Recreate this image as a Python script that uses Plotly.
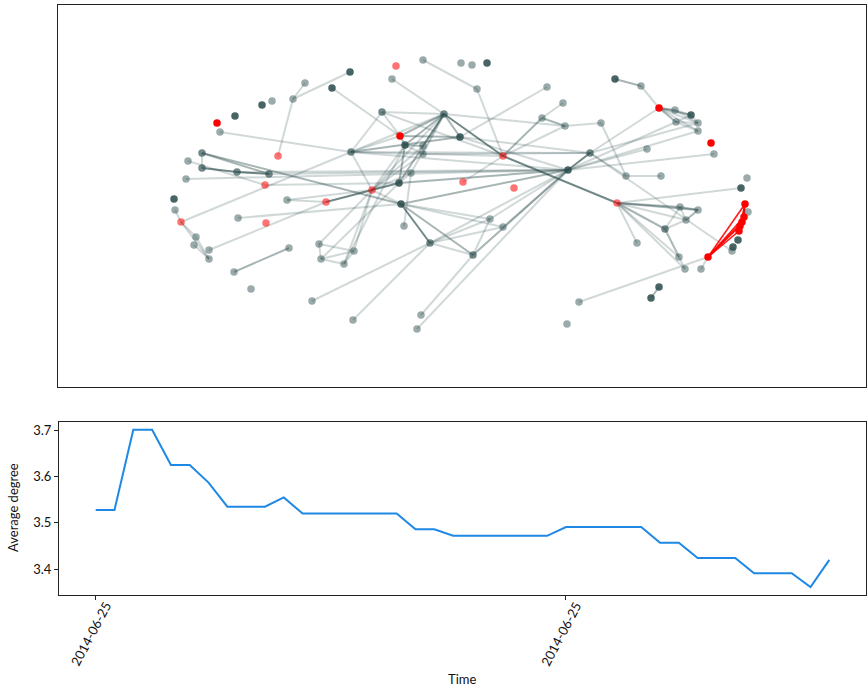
import plotly.graph_objects as go

# ---- network snapshot: node layout positions (layout units) and node classes ----
# classes: R = red, r = faded red, D = dark, M = medium, G = light grey
pos_x = [217, 235, 262, 272, 305, 293, 350, 332, 396, 392,
         220, 382, 400, 278, 351, 202, 188, 202, 237, 269,
         186, 265, 174, 175, 287, 326, 372, 399, 401, 238,
         423, 461, 472, 487, 477, 547, 563, 615, 444, 542,
         565, 601, 405, 423, 460, 423, 503, 590, 568, 411,
         463, 514, 617, 490, 181, 266, 196, 194, 209, 209,
         289, 234, 251, 319, 321, 354, 344, 312, 353, 404,
         503, 430, 473, 421, 417, 579, 567, 641, 659, 675,
         691, 676, 698, 698, 711, 714, 647, 626, 661, 747,
         741, 680, 698, 686, 665, 637, 679, 685, 701, 745,
         748, 744, 742, 740, 739, 708, 738, 733, 732, 659,
         651]
pos_y = [123, 116, 105, 101, 83, 99, 72, 88, 66, 79,
         132, 112, 136, 156, 152, 153, 161, 168, 172, 174,
         179, 185, 199, 210, 200, 202, 190, 183, 204, 218,
         60, 63, 65, 63, 89, 87, 103, 79, 114, 118,
         126, 123, 145, 146, 137, 154, 156, 153, 170, 173,
         182, 188, 203, 219, 222, 223, 237, 245, 250, 259,
         248, 272, 289, 244, 259, 251, 264, 301, 320, 226,
         227, 243, 255, 315, 329, 302, 324, 86, 108, 110,
         115, 122, 123, 131, 143, 154, 149, 176, 176, 178,
         188, 207, 210, 220, 229, 243, 257, 269, 269, 204,
         212, 217, 222, 226, 231, 257, 240, 247, 251, 287,
         298]
node_class = list(
    "RDDGGGDDrG"
    "GMRrMMGMMM"
    "GrDGGrrDDG"
    "GGGDGGGDMG"
    "GGDGDGrMDG"
    "rrrGrrGGGG"
    "GGGGGGGGGG"
    "GMMGGGGGRG"
    "DGGGRGGGGG"
    "DGGGMGGGGR"
    "GRRRRRDDGD"
    "D"
)

# edges as (source, target) node indices, grouped by drawing strength
edges_light = [
    (4, 5), (5, 6), (5, 13), (7, 12), (9, 38), (30, 34), (34, 46), (35, 44),
    (36, 39), (40, 46), (40, 41), (41, 87), (87, 88), (47, 87), (77, 78),
    (10, 14), (11, 38), (11, 12), (11, 14), (11, 46), (38, 14), (38, 45),
    (38, 26), (38, 49), (38, 40), (14, 12), (14, 46), (14, 26), (14, 48),
    (14, 47), (42, 45), (43, 45), (43, 26), (45, 26), (42, 26), (27, 49),
    (49, 69), (49, 26), (26, 28), (44, 48), (44, 47), (45, 47), (46, 50),
    (15, 17), (16, 21), (21, 27), (20, 48), (19, 48), (18, 48), (24, 25),
    (24, 26), (29, 28), (23, 54), (54, 14), (54, 56), (54, 59), (56, 59),
    (57, 59), (58, 25), (63, 64), (63, 65), (64, 65), (64, 66), (65, 66),
    (63, 26), (66, 26), (65, 26), (64, 27), (66, 42), (67, 71), (68, 71),
    (28, 53), (28, 70), (71, 53), (71, 70), (71, 72), (72, 53), (70, 48),
    (53, 48), (71, 48), (73, 72), (74, 48), (47, 78), (48, 81), (48, 83),
    (47, 82), (48, 86), (48, 85), (78, 82), (78, 83), (79, 80), (79, 82),
    (81, 80), (81, 82), (81, 83), (80, 82), (47, 108), (52, 90), (52, 93),
    (52, 95), (52, 96), (52, 97), (91, 93), (91, 94), (93, 94), (94, 96),
    (94, 97), (98, 105), (75, 105),
]
edges_medium = [
    (39, 40), (39, 46), (37, 77), (38, 12), (38, 44), (38, 42), (38, 43),
    (38, 27), (12, 44), (12, 42), (14, 44), (42, 43), (42, 27), (27, 48),
    (28, 48), (15, 19), (15, 28), (60, 61), (28, 72), (72, 48), (78, 79),
    (78, 80), (78, 81), (52, 91), (52, 92), (52, 94), (91, 92), (92, 93),
    (109, 110),
]
edges_dark = [
    (38, 46), (27, 26), (25, 26), (46, 52), (17, 18), (18, 19), (28, 71),
    (48, 47),
]
edges_red = [
    (105, 99), (105, 101), (105, 102), (105, 103), (105, 104), (99, 101),
    (99, 102), (99, 104), (101, 103), (102, 104),
]

# ---- average degree over time ----
snapshot = list(range(40))
avg_degree = [3.528, 3.528, 3.701, 3.701, 3.625, 3.625, 3.587, 3.535, 3.535, 3.535,
              3.555, 3.520, 3.520, 3.520, 3.520, 3.520, 3.520, 3.486, 3.486, 3.472,
              3.472, 3.472, 3.472, 3.472, 3.472, 3.491, 3.491, 3.491, 3.491, 3.491,
              3.457, 3.457, 3.424, 3.424, 3.424, 3.391, 3.391, 3.391, 3.361, 3.420]
time_tick_vals = [0, 25]
time_tick_text = ["2014-06-25", "2014-06-25"]
degree_ticks = [3.4, 3.5, 3.6, 3.7]

SLATE = "47,79,79"
node_colors = {
    "G": f"rgba({SLATE},0.48)",
    "M": f"rgba({SLATE},0.68)",
    "D": f"rgba({SLATE},0.88)",
    "r": "rgba(255,0,0,0.55)",
    "R": "rgba(255,0,0,1)",
}
FONT = "Lato, Inter, sans-serif"


def edge_xy(edges):
    xs, ys = [], []
    for a, b in edges:
        xs += [pos_x[a], pos_x[b], None]
        ys += [pos_y[a], pos_y[b], None]
    return xs, ys


fig = go.Figure()

for edges, color, width in [
    (edges_light, f"rgba({SLATE},0.22)", 2),
    (edges_medium, f"rgba({SLATE},0.42)", 2),
    (edges_dark, f"rgba({SLATE},0.68)", 2),
    (edges_red, "rgba(255,0,0,0.9)", 1.6),
]:
    ex, ey = edge_xy(edges)
    fig.add_trace(go.Scatter(x=ex, y=ey, mode="lines",
                             line=dict(color=color, width=width),
                             hoverinfo="skip", showlegend=False,
                             xaxis="x", yaxis="y"))

for cls in ["G", "M", "D", "r", "R"]:
    idx = [i for i, c in enumerate(node_class) if c == cls]
    fig.add_trace(go.Scatter(
        x=[pos_x[i] for i in idx], y=[pos_y[i] for i in idx],
        mode="markers",
        marker=dict(size=7.5, color=node_colors[cls], line=dict(width=0)),
        showlegend=False, xaxis="x", yaxis="y"))

fig.add_trace(go.Scatter(x=snapshot, y=avg_degree, mode="lines",
                         line=dict(color="#1E88E5", width=2),
                         showlegend=False, xaxis="x2", yaxis="y2"))

W, H = 867, 687
axis_box = dict(showline=True, mirror=True, linecolor="#222", linewidth=1,
                showgrid=False, zeroline=False)

# rotated date labels, centred below their ticks
time_labels = [
    dict(text=t, x=v, xref="x2", y=1 - 634 / H, yref="paper", xshift=-5,
         textangle=-62, showarrow=False, font=dict(size=13, family=FONT),
         xanchor="center", yanchor="middle")
    for v, t in zip(time_tick_vals, time_tick_text)
]

fig.update_layout(
    width=W, height=H,
    margin=dict(l=0, r=0, t=0, b=0),
    paper_bgcolor="white", plot_bgcolor="white",
    font=dict(family=FONT, size=13, color="#111"),
    xaxis=dict(domain=[58 / W, 866 / W], range=[58, 866],
               showticklabels=False, ticks="", anchor="y", **axis_box),
    yaxis=dict(domain=[1 - 387 / H, 1 - 5 / H], range=[387, 5],
               showticklabels=False, ticks="", anchor="x", **axis_box),
    xaxis2=dict(domain=[59 / W, 866 / W], range=[-1.95, 40.95],
                tickvals=time_tick_vals, showticklabels=False,
                ticks="outside", ticklen=4, tickcolor="#222",
                anchor="y2", **axis_box),
    yaxis2=dict(domain=[1 - 595 / H, 1 - 422 / H], range=[3.344, 3.718],
                tickvals=degree_ticks, ticktext=[f"{v:.1f}" for v in degree_ticks],
                ticks="outside", ticklen=4, tickcolor="#222",
                tickfont=dict(size=13), anchor="x2", **axis_box),
    annotations=time_labels + [
        dict(text="Average degree", x=13 / W, y=1 - 508 / H, xref="paper",
             yref="paper", textangle=-90, showarrow=False,
             font=dict(size=13), xanchor="center", yanchor="middle"),
        dict(text="Time", x=462 / W, y=1 - 679 / H, xref="paper",
             yref="paper", showarrow=False, font=dict(size=13),
             xanchor="center", yanchor="middle"),
    ],
)

fig.write_html("out.html")
